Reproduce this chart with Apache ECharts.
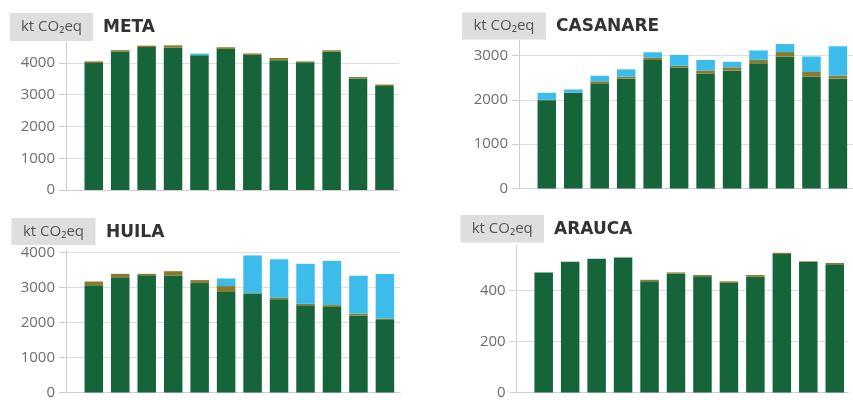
<!DOCTYPE html>
<html>
<head>
<meta charset="utf-8">
<script src="https://cdn.jsdelivr.net/npm/echarts@6/dist/echarts.min.js"></script>
<style>
html,body{margin:0;padding:0;background:#fff;}
#chart{width:853px;height:400px;}
</style>
</head>
<body>
<div id="chart"></div>
<script>
var years = ['2005','2006','2007','2008','2009','2010','2011','2012','2013','2014','2015','2016'];
var panelNames = ['META','CASANARE','HUILA','ARAUCA'];
var unitLabel = 'kt CO₂eq';

var metaGreen = [4000, 4360, 4500, 4490, 4245, 4445, 4255, 4090, 4020, 4355, 3515, 3275];
var metaOlive = [50, 45, 45, 65, 0, 50, 45, 70, 30, 45, 45, 45];
var metaBlue  = [0, 0, 0, 0, 50, 0, 0, 0, 0, 0, 0, 0];

var casGreen = [1990, 2160, 2375, 2480, 2900, 2730, 2590, 2660, 2825, 2975, 2530, 2480];
var casOlive = [10, 5, 45, 45, 50, 40, 75, 75, 80, 105, 100, 65];
var casBlue  = [160, 70, 125, 165, 125, 245, 235, 125, 210, 180, 350, 665];

var huiGreen = [3060, 3295, 3350, 3340, 3130, 2870, 2830, 2665, 2490, 2440, 2200, 2070];
var huiOlive = [110, 95, 40, 125, 80, 170, 10, 45, 45, 55, 50, 40];
var huiBlue  = [0, 0, 0, 0, 0, 215, 1075, 1095, 1140, 1265, 1085, 1275];

var arGreen = [472, 514, 526, 531, 437, 467, 457, 432, 455, 544, 514, 504];
var arOlive = [0, 0, 0, 0, 6, 5, 5, 5, 7, 5, 2, 5];
var arBlue  = [0, 0, 0, 0, 0, 0, 0, 0, 0, 0, 0, 0];

var yInterval = [1000, 1000, 1000, 200];
var yMax = [4661, 3352, 4070, 577];

var COLORS = {green:'#16653A', olive:'#8A7A2C', blue:'#3BBCEA'};

var panels = [
  {green:metaGreen, olive:metaOlive, blue:metaBlue, grid:{left:66, top:42, width:333, height:148}, xmin:-1.05, xmax:11.55,
   box:{x:10, y:13, w:83, h:28}, titleX:103},
  {green:casGreen, olive:casOlive, blue:casBlue, grid:{left:519, top:40, width:334, height:148.5}, xmin:-1.05, xmax:11.57,
   box:{x:462, y:12.5, w:84, h:27}, titleX:556},
  {green:huiGreen, olive:huiOlive, blue:huiBlue, grid:{left:66, top:250, width:334, height:150}, xmin:-1.05, xmax:11.57,
   box:{x:11.5, y:218, w:84, h:27}, titleX:106},
  {green:arGreen, olive:arOlive, blue:arBlue, grid:{left:516.7, top:245.7, width:331.3, height:151.6}, xmin:-1.02, xmax:11.5,
   box:{x:460.5, y:215, w:83.5, h:27.5}, titleX:554}
];

var grids = [], xAxes = [], yAxes = [], series = [], graphics = [];
panels.forEach(function(p, i){
  grids.push(Object.assign({}, p.grid));
  xAxes.push({
    type:'value', gridIndex:i, min:p.xmin, max:p.xmax,
    axisLabel:{show:false}, axisTick:{show:false}, splitLine:{show:false},
    axisLine:{show:true, onZero:false, lineStyle:{color:'#cfcfcf', width:1}}
  });
  yAxes.push({
    type:'value', gridIndex:i, min:0, max:yMax[i], interval:yInterval[i],
    axisLine:{show:true, onZero:false, lineStyle:{color:'#cfcfcf', width:1}},
    axisTick:{show:true, length:7, lineStyle:{color:'#cfcfcf'}},
    axisLabel:{showMaxLabel:false, margin:11, color:'#6e6e6e', fontFamily:'Open Sans', fontSize:15,
      formatter:function(v){ return String(v); }},
    splitLine:{show:true, showMaxLine:false, lineStyle:{color:'#dedede', width:1}}
  });
  var layers = [['green', p.green], ['olive', p.olive], ['blue', p.blue]];
  layers.forEach(function(l){
    series.push({
      type:'bar', xAxisIndex:i, yAxisIndex:i, stack:'s'+i, barWidth:18.5,
      itemStyle:{color:COLORS[l[0]]},
      encode:{x:1, y:0},
      data: years.map(function(y, k){ return [l[1][k], k]; }),
      silent:true
    });
  });
  graphics.push({
    type:'rect', shape:{x:p.box.x, y:p.box.y, width:p.box.w, height:p.box.h},
    style:{fill:'#dedede'}
  });
  graphics.push({
    type:'text', x:p.box.x + p.box.w/2, y:p.box.y + p.box.h/2,
    style:{text:unitLabel, fill:'#555', font:'15px "Open Sans"', align:'center', verticalAlign:'middle'}
  });
  graphics.push({
    type:'text', x:p.titleX, y:p.box.y + p.box.h/2 + 1,
    style:{text:panelNames[i], fill:'#333', font:'bold 17px "DejaVu Sans"', align:'left', verticalAlign:'middle'}
  });
});

var chart = echarts.init(document.getElementById('chart'), null, {renderer:'canvas'});
chart.setOption({
  animation:false,
  backgroundColor:'#ffffff',
  grid:grids, xAxis:xAxes, yAxis:yAxes, series:series,
  graphic:graphics
});
</script>
</body>
</html>
